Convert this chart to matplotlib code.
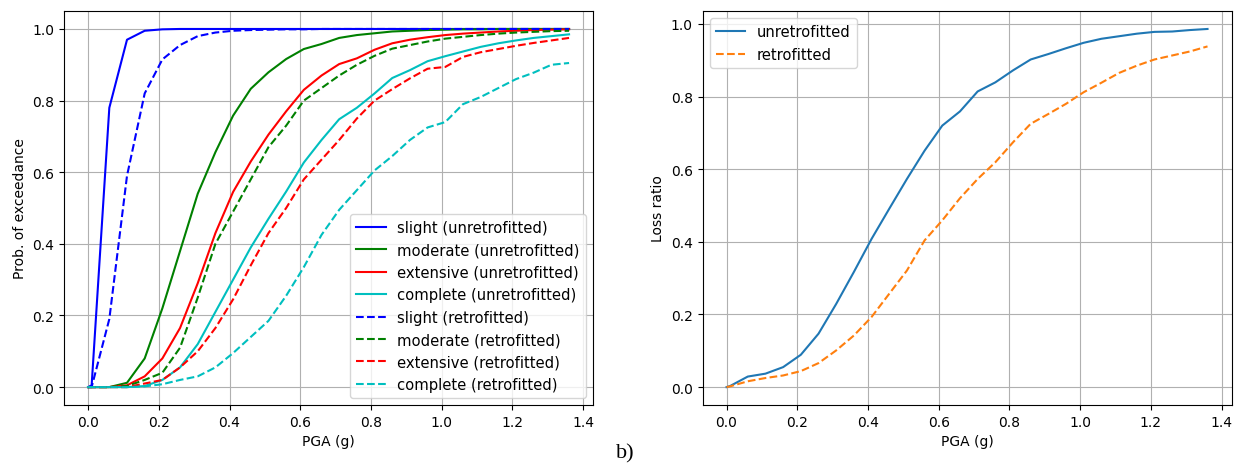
import matplotlib.pyplot as plt

# PGA grid (g)
pga = [0.0, 0.01, 0.06, 0.11, 0.16, 0.21, 0.26, 0.31, 0.36, 0.41, 0.46, 0.51,
       0.56, 0.61, 0.66, 0.71, 0.76, 0.81, 0.86, 0.91, 0.96, 1.01, 1.06,
       1.11, 1.16, 1.21, 1.26, 1.31, 1.36]

# Fragility curves - unretrofitted
slight_u = [0.0, 0.005, 0.78, 0.97, 0.995, 0.999, 1.0, 1.0, 1.0, 1.0, 1.0, 1.0,
            1.0, 1.0, 1.0, 1.0, 1.0, 1.0, 1.0, 1.0, 1.0, 1.0, 1.0,
            1.0, 1.0, 1.0, 1.0, 1.0, 1.0]
moderate_u = [0.0, 0.0, 0.0, 0.012, 0.08, 0.22, 0.38, 0.54, 0.656, 0.758, 0.833, 0.879,
              0.916, 0.944, 0.958, 0.975, 0.983, 0.988, 0.993, 0.995, 0.997, 0.998, 0.999,
              0.999, 1.0, 1.0, 1.0, 1.0, 1.0]
extensive_u = [0.0, 0.0, 0.0, 0.005, 0.03, 0.08, 0.165, 0.29, 0.43, 0.545, 0.63, 0.705,
               0.77, 0.83, 0.87, 0.902, 0.918, 0.942, 0.96, 0.97, 0.977, 0.983, 0.987,
               0.99, 0.993, 0.995, 0.997, 0.998, 0.999]
complete_u = [0.0, 0.0, 0.0, 0.0, 0.003, 0.02, 0.055, 0.12, 0.21, 0.3, 0.39, 0.47,
              0.546, 0.627, 0.69, 0.748, 0.78, 0.82, 0.863, 0.885, 0.91, 0.924, 0.937,
              0.95, 0.96, 0.968, 0.975, 0.98, 0.985]

# Fragility curves - retrofitted
slight_r = [0.0, 0.0, 0.19, 0.59, 0.82, 0.915, 0.955, 0.98, 0.99, 0.995, 0.997, 0.998,
            0.999, 0.999, 1.0, 1.0, 1.0, 1.0, 1.0, 1.0, 1.0, 1.0, 1.0,
            1.0, 1.0, 1.0, 1.0, 1.0, 1.0]
moderate_r = [0.0, 0.0, 0.0, 0.003, 0.02, 0.04, 0.11, 0.25, 0.40, 0.49, 0.58, 0.67,
              0.73, 0.80, 0.835, 0.87, 0.90, 0.925, 0.945, 0.955, 0.965, 0.973, 0.978,
              0.983, 0.987, 0.99, 0.992, 0.994, 0.995]
extensive_r = [0.0, 0.0, 0.0, 0.0, 0.01, 0.02, 0.055, 0.10, 0.165, 0.245, 0.34, 0.43,
               0.50, 0.58, 0.635, 0.69, 0.75, 0.80, 0.832, 0.862, 0.889, 0.894, 0.922,
               0.935, 0.944, 0.953, 0.961, 0.968, 0.975]
complete_r = [0.0, 0.0, 0.0, 0.0, 0.002, 0.008, 0.02, 0.03, 0.055, 0.095, 0.14, 0.185,
              0.255, 0.335, 0.425, 0.495, 0.55, 0.605, 0.645, 0.69, 0.725, 0.74, 0.79,
              0.81, 0.835, 0.86, 0.878, 0.9, 0.905]

# Loss ratio
loss_u = [0.0, 0.003, 0.029, 0.037, 0.055, 0.089, 0.147, 0.229, 0.317, 0.408, 0.491, 0.573,
          0.651, 0.72, 0.759, 0.814, 0.839, 0.872, 0.902, 0.917, 0.933, 0.948, 0.959,
          0.966, 0.973, 0.978, 0.979, 0.983, 0.986]
loss_r = [0.0, 0.002, 0.016, 0.025, 0.032, 0.044, 0.066, 0.101, 0.142, 0.193, 0.257, 0.321,
          0.404, 0.459, 0.52, 0.573, 0.619, 0.674, 0.725, 0.752, 0.78, 0.812, 0.838,
          0.865, 0.885, 0.902, 0.913, 0.924, 0.938]

fig = plt.figure(figsize=(12.39, 4.64), dpi=100)
ax1 = fig.add_axes([0.0517, 0.125, 0.427, 0.849])
ax2 = fig.add_axes([0.567, 0.125, 0.427, 0.849])

ax1.plot(pga, slight_u, 'b-', label='slight (unretrofitted)')
ax1.plot(pga, moderate_u, 'g-', label='moderate (unretrofitted)')
ax1.plot(pga, extensive_u, 'r-', label='extensive (unretrofitted)')
ax1.plot(pga, complete_u, 'c-', label='complete (unretrofitted)')
ax1.plot(pga, slight_r, 'b--', label='slight (retrofitted)')
ax1.plot(pga, moderate_r, 'g--', label='moderate (retrofitted)')
ax1.plot(pga, extensive_r, 'r--', label='extensive (retrofitted)')
ax1.plot(pga, complete_r, 'c--', label='complete (retrofitted)')
ax1.set_xlabel('PGA (g)')
ax1.set_ylabel('Prob. of exceedance')
ax1.set_xticks([0.0, 0.2, 0.4, 0.6, 0.8, 1.0, 1.2, 1.4])
ax1.grid(True)
ax1.legend(loc='lower right', fontsize=10.6)

ax2.plot(pga, loss_u, '-', label='unretrofitted')
ax2.plot(pga, loss_r, '--', label='retrofitted')
ax2.set_xlabel('PGA (g)')
ax2.set_ylabel('Loss ratio')
ax2.set_xticks([0.0, 0.2, 0.4, 0.6, 0.8, 1.0, 1.2, 1.4])
ax2.grid(True)
ax2.legend(loc='upper left', fontsize=10.6)

fig.text(0.505, 0.012, 'b)', fontsize=16, family='Liberation Serif', ha='center')

fig.savefig('out.png', dpi=100)
